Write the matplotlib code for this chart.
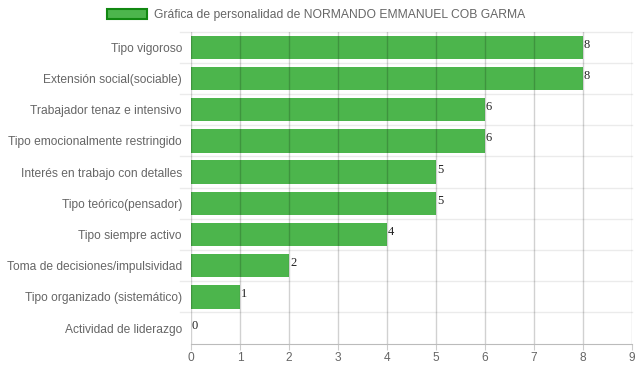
import matplotlib.pyplot as plt
from matplotlib.patches import Patch

categorias = ["Tipo vigoroso", "Extensión social(sociable)", "Trabajador tenaz e intensivo",
              "Tipo emocionalmente restringido", "Interés en trabajo con detalles",
              "Tipo teórico(pensador)", "Tipo siempre activo",
              "Toma de decisiones/impulsividad", "Tipo organizado (sistemático)",
              "Actividad de liderazgo"]
valores = [8, 8, 6, 6, 5, 5, 4, 2, 1, 0]
ticks_x = [0, 1, 2, 3, 4, 5, 6, 7, 8, 9]
titulo = "Gráfica de personalidad de NORMANDO EMMANUEL COB GARMA"

verde = "#4cb54c"
borde = "#118811"

plt.rcParams["font.family"] = ["Liberation Sans", "DejaVu Sans"]

fig = plt.figure(figsize=(6.39, 3.72), dpi=100)
ax = fig.add_axes([191 / 639, 1 - 343.6 / 372, 441 / 639, 312 / 372])

pos = list(range(len(categorias)))
ax.barh(pos, valores, height=0.75, color=verde, zorder=1)

# etiquetas de valor al final de cada barra
for y, v in zip(pos, valores):
    ax.text(v + 0.02, y - 0.08, str(v), fontsize=9, family="Liberation Serif",
            color="#222222", va="center", ha="left", zorder=3)

ax.set_xlim(0, 9)
ax.set_ylim(len(categorias) - 0.5, -0.5)
ax.set_xticks(ticks_x)
ax.set_yticks(pos)
ax.set_yticklabels(categorias, fontsize=8.65, color="#666666")
ax.tick_params(axis="x", labelsize=8.6, labelcolor="#666666", length=4, color="#cccccc", pad=2)
ax.tick_params(axis="y", length=0, pad=6.5)

# rejilla
for x in ticks_x:
    ax.axvline(x, color="#000000", alpha=0.18, lw=1, zorder=2)
for y in [p + 0.5 for p in pos[:-1]] + [-0.5]:
    ax.plot([-0.22, 9], [y, y], color="#ebebeb", lw=1, clip_on=False, zorder=0)

for s in ["top", "right", "left"]:
    ax.spines[s].set_visible(False)
ax.spines["bottom"].set_color("#bbbbbb")

fig.legend(handles=[Patch(facecolor=verde, edgecolor=borde, linewidth=1.5, label=titulo)],
           loc="center", bbox_to_anchor=(0.495, 1 - 15 / 372), frameon=False,
           fontsize=8.7, labelcolor="#666666", handlelength=3.3, handleheight=0.9,
           handletextpad=0.55)

fig.savefig("out.png", dpi=100, facecolor="white")
